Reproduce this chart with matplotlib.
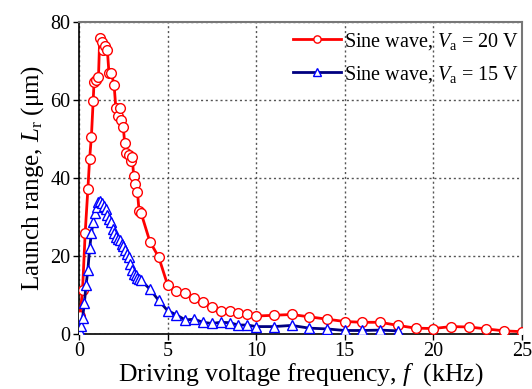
import matplotlib
matplotlib.use("Agg")
import matplotlib.pyplot as plt

plt.rcParams.update({'font.family': 'Liberation Serif', 'font.size': 14.5,
                     'mathtext.fontset': 'custom',
                     'mathtext.rm': 'Liberation Serif',
                     'mathtext.it': 'Liberation Serif:italic'})

# Va = 20 V
f_20 = [0.05, 0.2, 0.35, 0.5, 0.6, 0.7, 0.8, 0.85, 0.95, 1.1, 1.17, 1.28, 1.36, 1.45, 1.6,
        1.69, 1.83, 1.98, 2.08, 2.2, 2.3, 2.36, 2.5, 2.58, 2.68, 2.83, 2.92, 3.0, 3.09,
        3.18, 3.3, 3.39, 3.5, 4.0, 4.5, 5.0, 5.5, 6.0, 6.5, 7.0, 7.5, 8.0, 8.5, 9.0, 9.5,
        10, 11, 12, 13, 14, 15, 16, 17, 18, 19, 20, 21, 22, 23, 24, 25]
L_20 = [4.5, 11.3, 26.0, 37.1, 45.0, 50.6, 59.8, 64.7, 65.2, 66.0, 76.0, 74.8, 72.8, 73.8, 72.8,
        67.0, 66.8, 63.9, 57.9, 55.8, 57.9, 55.0, 53.0, 48.9, 46.5, 45.9, 44.4, 45.5, 40.4,
        38.5, 36.4, 31.6, 31.1, 23.7, 19.7, 12.6, 10.9, 10.5, 9.3, 8.2, 6.8, 6.0, 5.8, 5.3, 5.0,
        4.6, 4.8, 5.0, 4.4, 3.8, 3.2, 3.0, 3.0, 2.2, 1.5, 1.4, 1.9, 1.8, 1.3, 0.8, 0.6]

# Va = 15 V
f_15 = [0.05, 0.1, 0.2, 0.3, 0.4, 0.5, 0.6, 0.7, 0.8, 0.9, 1.0, 1.1, 1.2, 1.3, 1.4, 1.5,
        1.6, 1.7, 1.8, 1.9, 2.0, 2.1, 2.2, 2.3, 2.4, 2.5, 2.6, 2.7, 2.8, 2.9, 3.0, 3.1,
        3.2, 3.3, 3.4, 3.5, 4.0, 4.5, 5.0, 5.5, 6.0, 6.5, 7.0, 7.5, 8.0, 8.5, 9.0, 9.5,
        10, 11, 12, 13, 14, 15, 16, 17, 18]
L_15 = [0.6, 2.1, 4.0, 7.9, 12.6, 16.4, 22.0, 25.8, 28.8, 30.9, 32.6, 33.9, 34.2, 33.5, 32.9, 32.0,
        30.5, 29.5, 28.8, 26.8, 25.8, 24.9, 24.3, 24.0, 23.2, 22.5, 21.5, 20.5, 19.7, 17.9, 16.4, 15.5,
        15.1, 14.3, 14.0, 13.8, 11.5, 8.6, 6.0, 4.9, 3.6, 3.8, 3.0, 2.7, 3.0, 2.9, 2.3, 2.3,
        1.9, 1.9, 2.2, 1.5, 1.3, 0.9, 0.9, 1.0, 0.8]

fig = plt.figure(figsize=(5.32, 3.89), dpi=100)
ax = fig.add_axes([0.1485, 0.1414, 0.8325, 0.802])

ax.plot(f_20, L_20, '-o', color='red', lw=2, ms=7, mfc='white', mec='red', mew=1,
        label=r'Sine wave, $V_\mathrm{a}$ = 20 V', zorder=3)
ax.plot(f_15, L_15, '-^', color='#000080', lw=2, ms=7, mfc='white', mec='blue', mew=1,
        label=r'Sine wave, $V_\mathrm{a}$ = 15 V', zorder=3)

ax.set_xlim(0, 25)
ax.set_ylim(0, 80)
ax.set_xticks([0, 5, 10, 15, 20, 25])
ax.set_yticks([0, 20, 40, 60, 80])
ax.grid(True, linestyle=(0, (1.5, 2)), color='#555555', lw=1)
ax.tick_params(direction='out', length=4, width=1, pad=2)
for s in ['top', 'right']:
    ax.spines[s].set_color('#777777')
    ax.spines[s].set_linewidth(1.5)
ax.spines['left'].set_linewidth(1.2)
ax.spines['bottom'].set_linewidth(1.2)

ax.set_xlabel(r'Driving voltage frequency, $f$  (kHz)', fontsize=18.5, labelpad=0)
ax.set_ylabel(r'Launch range, $L_\mathrm{r}$ (μm)', fontsize=18, labelpad=3)

leg = ax.legend(loc='upper right', bbox_to_anchor=(1.015, 1.0), frameon=False,
                handlelength=2.4, handletextpad=0.15, borderaxespad=0.05,
                labelspacing=0.6, markerscale=0.75)

fig.savefig('out.png', dpi=100)
